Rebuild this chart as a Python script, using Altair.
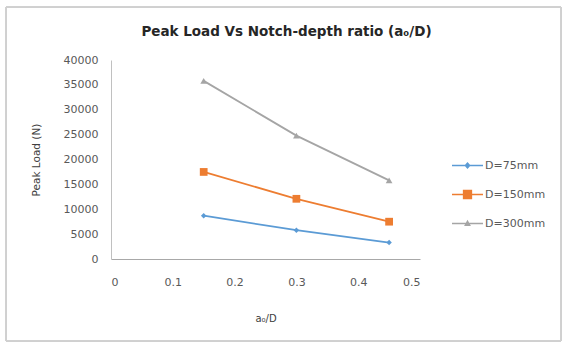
import altair as alt
import pandas as pd

ratios = [0.15, 0.3, 0.45]
series = ["D=75mm", "D=150mm", "D=300mm"]
load_75 = [8700, 5800, 3300]
load_150 = [17500, 12100, 7500]
load_300 = [35800, 24800, 15800]

rows = []
for name, vals in zip(series, [load_75, load_150, load_300]):
    for r, v in zip(ratios, vals):
        rows.append({"ratio": r, "load": v, "series": name})
df = pd.DataFrame(rows)

colors = ["#5B9BD5", "#ED7D31", "#A5A5A5"]
marker_shapes = ["diamond", "square", "triangle-up"]
marker_sizes = [30, 60, 45]
# legend glyphs: a short line with the marker in its middle
bar = "M-1,-0.045L1,-0.045L1,0.045L-1,0.045Z"
legend_shapes = [
    bar + "M0,-0.22L0.2,0L0,0.22L-0.2,0Z",
    bar + "M-0.3,-0.3L0.3,-0.3L0.3,0.3L-0.3,0.3Z",
    bar + "M0,-0.24L0.22,0.16L-0.22,0.16Z",
]
font = "DejaVu Sans"

x = alt.X("ratio:Q", scale=alt.Scale(domain=[0, 0.5]),
          axis=alt.Axis(values=[0, 0.1, 0.2, 0.3, 0.4, 0.5], format=".1~f",
                        title="a₀/D", titleFontWeight="normal", titleFontSize=10,
                        titlePadding=26, labelPadding=17, ticks=False, grid=False,
                        domainColor="#A8A8A8", labelColor="#595959", labelFontSize=11,
                        titleColor="#404040"))
y = alt.Y("load:Q", scale=alt.Scale(domain=[0, 40000]),
          axis=alt.Axis(values=list(range(0, 40001, 5000)), format="d",
                        title="Peak Load (N)", titleFontWeight="normal", titleFontSize=10.5,
                        titlePadding=22, labelPadding=13, ticks=False, grid=False,
                        domainColor="#C0C0C0", labelColor="#595959", labelFontSize=11,
                        titleColor="#404040"))
color = alt.Color("series:N", scale=alt.Scale(domain=series, range=colors),
                  legend=alt.Legend(title=None, orient="none", legendX=341, legendY=90,
                                    labelFontSize=11, labelColor="#595959", rowPadding=8,
                                    symbolSize=960, labelOffset=2, padding=0,
                                    symbolOpacity=1, symbolStrokeWidth=0))
legend_shape = alt.Shape("series:N", scale=alt.Scale(domain=series, range=legend_shapes))

lines = alt.Chart(df).mark_line(strokeWidth=1.8).encode(x=x, y=y, color=color, detail="series:N")

point_layers = []
for name, shp, sz in zip(series, marker_shapes, marker_sizes):
    point_layers.append(
        alt.Chart(df).transform_filter(alt.datum.series == name)
        .mark_point(filled=True, opacity=1, shape=shp, size=sz)
        .encode(x=x, y=y, color=color)
    )

# carries the legend only; draws no marks itself
legend_layer = alt.Chart(df).transform_filter("false").mark_point(filled=True, opacity=1).encode(
    x=x, y=y, color=color, shape=legend_shape)

frame = alt.Chart(df).mark_rect(fill=None, stroke="#D0D0D0", strokeWidth=1, clip=False).encode(
    x=alt.value(-105), x2=alt.value(450), y=alt.value(-53), y2=alt.value(281))

chart = alt.layer(frame, legend_layer, lines, *point_layers).properties(
    width=309, height=199,
    title=alt.Title("Peak Load Vs Notch-depth ratio (a₀/D)", fontSize=13.5, fontWeight="bold",
                    font=font, anchor="middle", frame="group", dx=21, offset=-32,
                    color="#262626"),
    autosize=alt.AutoSizeParams(type="none"),
    padding={"left": 111, "top": 60, "right": 143, "bottom": 83},
).configure(font=font).configure_view(stroke=None).configure_axis(
    labelFont=font, titleFont=font).configure_legend(labelFont=font)

chart.save("out.html", embed_options={"renderer": "svg", "actions": False})
